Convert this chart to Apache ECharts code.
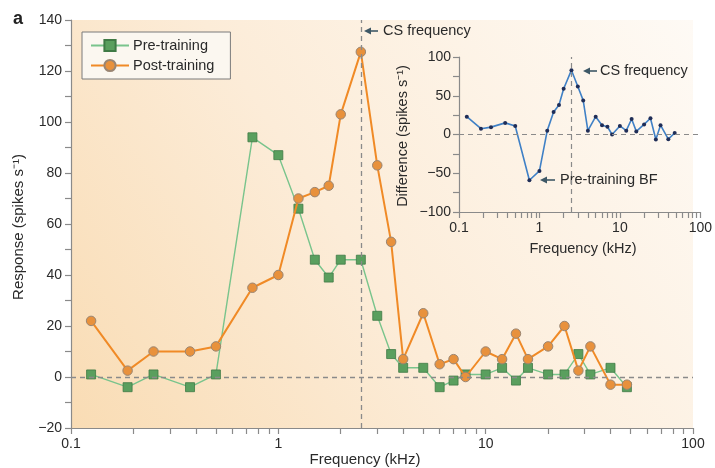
<!DOCTYPE html>
<html><head><meta charset="utf-8">
<script src="https://cdn.jsdelivr.net/npm/echarts@6/dist/echarts.min.js"></script>
<style>html,body{margin:0;padding:0;background:#fff}#c{width:715px;height:468px}</style>
</head><body><div id="c"></div>
<script>
const freq = [0.125, 0.1875, 0.25, 0.375, 0.5, 0.75, 1, 1.25, 1.5, 1.75, 2, 2.5, 3, 3.5, 4, 5, 6, 7, 8, 10, 12, 14, 16, 20, 24, 28, 32, 40, 48];
const preTraining = [1, -4, 1, -4, 1, 94, 87, 66, 46, 39, 46, 46, 24, 9, 3.6, 3.6, -4, -1.4, 1, 1, 3.6, -1.4, 3.6, 1, 1, 9, 1, 3.6, -4];
const postTraining = [22, 2.5, 10, 10, 12, 35, 40, 70, 72.5, 75, 103, 127.5, 83, 53, 7, 25, 5, 7, 0, 10, 7, 17, 7, 12, 20, 2.5, 12, -3, -3];
const difference = [23, 7.5, 9.5, 15, 11, -59, -47, 5, 29, 38, 59, 83, 62, 44, 5, 23, 12, 10, 0, 11, 5, 20, 4, 13, 21, -6.5, 12, -6, 2];
const csFrequency = 2.5;
const xTickValues = [0.1,0.2,0.3,0.4,0.5,0.6,0.7,0.8,0.9,1,2,3,4,5,6,7,8,9,10,20,30,40,50,60,70,80,90,100];
const xLabelValues = [0.1, 1, 10, 100];
const seriesNames = ['Pre-training', 'Post-training'];

const FONT = '"Liberation Sans", Arial, Helvetica, sans-serif';
const TXT = '#2a2a2a';
const pair = (xs, ys) => xs.map((x, i) => [x, ys[i]]);
const fmtNum = v => String(v).replace('-', '\u2212');

const chart = echarts.init(document.getElementById('c'), null, {renderer: 'canvas'});

function logX(gridIndex) {
  return {
    type: 'log', logBase: 10, min: 0.1, max: 100, gridIndex,
    axisLine: {show: true, onZero: false, lineStyle: {color: '#8a8a8a', width: 1.2}},
    axisTick: {show: true, length: 6, customValues: xTickValues, lineStyle: {color: '#8a8a8a', width: 1.2}},
    axisLabel: {customValues: xLabelValues, margin: 9, color: TXT, fontFamily: FONT, fontSize: 14,
      formatter: v => String(+(+v).toPrecision(3))},
    splitLine: {show: false}, minorTick: {show: false}
  };
}

const option = {
  animation: false,
  textStyle: {fontFamily: FONT},
  grid: [
    {left: 71, right: 22, top: 20, bottom: 40, show: true, borderWidth: 0,
     backgroundColor: new echarts.graphic.LinearGradient(0, 1, 1, 0, [
       {offset: 0, color: '#f9dcb4'}, {offset: 0.45, color: '#fcecd8'}, {offset: 1, color: '#fefaf5'}])},
    {left: 459, top: 57, width: 249, height: 155, show: false}
  ],
  xAxis: [logX(0), logX(1)],
  yAxis: [
    {type: 'value', gridIndex: 0, min: -20, max: 140, interval: 20,
     axisLine: {show: true, onZero: false, lineStyle: {color: '#8a8a8a', width: 1.2}},
     axisTick: {show: true, length: 6, lineStyle: {color: '#8a8a8a', width: 1.2}},
     minorTick: {show: true, splitNumber: 2, length: 6, lineStyle: {color: '#8a8a8a', width: 1.2}},
     axisLabel: {margin: 9, color: TXT, fontFamily: FONT, fontSize: 14, formatter: fmtNum},
     splitLine: {show: false}},
    {type: 'value', gridIndex: 1, min: -100, max: 100, interval: 50,
     axisLine: {show: true, onZero: false, lineStyle: {color: '#8a8a8a', width: 1.2}},
     axisTick: {show: true, length: 6, lineStyle: {color: '#8a8a8a', width: 1.2}},
     minorTick: {show: true, splitNumber: 2, length: 6, lineStyle: {color: '#8a8a8a', width: 1.2}},
     axisLabel: {margin: 8, color: TXT, fontFamily: FONT, fontSize: 14, formatter: fmtNum},
     splitLine: {show: false}}
  ],
  legend: {
    data: seriesNames, orient: 'vertical', left: 82, top: 32,
    padding: [6, 16, 6, 8], itemGap: 5, itemWidth: 38, itemHeight: 14,
    backgroundColor: '#fbf7f0', borderColor: '#7a7a7a', borderWidth: 1, borderRadius: 0,
    textStyle: {fontFamily: FONT, fontSize: 14.5, color: TXT, padding: [0, 0, 0, -1]}
  },
  series: [
    {name: seriesNames[0], type: 'line', xAxisIndex: 0, yAxisIndex: 0, data: pair(freq, preTraining),
     symbol: 'rect', symbolSize: 9, z: 3,
     lineStyle: {color: '#79c48c', width: 1.4},
     itemStyle: {color: '#5a9f5e', borderColor: '#3f7a45', borderWidth: 0.8},
     markLine: {silent: true, symbol: 'none', label: {show: false},
       lineStyle: {color: '#8a8a8a', type: [5, 4], width: 1.3},
       data: [{yAxis: 0}, {xAxis: csFrequency}]}},
    {name: seriesNames[1], type: 'line', xAxisIndex: 0, yAxisIndex: 0, data: pair(freq, postTraining),
     symbol: 'circle', symbolSize: 9.5, z: 4,
     lineStyle: {color: '#f08a26', width: 2},
     itemStyle: {color: '#e8913c', borderColor: '#9a8572', borderWidth: 1}},
    {name: 'Difference', type: 'line', xAxisIndex: 1, yAxisIndex: 1, data: pair(freq, difference),
     symbol: 'circle', symbolSize: 4, z: 4,
     lineStyle: {color: '#3f80c6', width: 1.6},
     itemStyle: {color: '#1f2d57', borderWidth: 0},
     markLine: {silent: true, symbol: 'none', label: {show: false},
       lineStyle: {color: '#8a8a8a', type: [5, 4], width: 1.2},
       data: [{yAxis: 0}, {xAxis: csFrequency}]}}
  ],
  graphic: [
    {type: 'text', left: 13, top: 10, style: {text: 'a', font: 'bold 18px ' + FONT, fill: '#222'}},
    {type: 'text', x: 19, y: 227, rotation: Math.PI / 2,
     style: {text: 'Response (spikes s\u207B\u00B9)', font: '15px ' + FONT, fill: TXT, align: 'center', verticalAlign: 'middle'}},
    {type: 'text', x: 365, y: 460,
     style: {text: 'Frequency (kHz)', font: '15px ' + FONT, fill: TXT, align: 'center', verticalAlign: 'middle'}},
    {type: 'text', x: 403, y: 136, rotation: Math.PI / 2,
     style: {text: 'Difference (spikes s\u207B\u00B9)', font: '14.5px ' + FONT, fill: TXT, align: 'center', verticalAlign: 'middle'}},
    {type: 'text', x: 583, y: 249,
     style: {text: 'Frequency (kHz)', font: '14.5px ' + FONT, fill: TXT, align: 'center', verticalAlign: 'middle'}},
    {type: 'line', shape: {x1: 378, y1: 31, x2: 368, y2: 31}, style: {stroke: '#3e5866', lineWidth: 1.6}},
    {type: 'polygon', shape: {points: [[364, 31], [371, 27.5], [371, 34.5]]}, style: {fill: '#3e5866'}},
    {type: 'text', x: 383, y: 31, style: {text: 'CS frequency', font: '14.5px ' + FONT, fill: TXT, verticalAlign: 'middle'}},
    {type: 'line', shape: {x1: 597, y1: 71, x2: 587, y2: 71}, style: {stroke: '#3e5866', lineWidth: 1.6}},
    {type: 'polygon', shape: {points: [[583, 71], [590, 67.5], [590, 74.5]]}, style: {fill: '#3e5866'}},
    {type: 'text', x: 600, y: 71, style: {text: 'CS frequency', font: '14.5px ' + FONT, fill: TXT, verticalAlign: 'middle'}},
    {type: 'line', shape: {x1: 555, y1: 180, x2: 544, y2: 180}, style: {stroke: '#3e5866', lineWidth: 1.6}},
    {type: 'polygon', shape: {points: [[540, 180], [547, 176.5], [547, 183.5]]}, style: {fill: '#3e5866'}},
    {type: 'text', x: 560, y: 180, style: {text: 'Pre-training BF', font: '14.5px ' + FONT, fill: TXT, verticalAlign: 'middle'}}
  ]
};
chart.setOption(option);
</script>
</body></html>
